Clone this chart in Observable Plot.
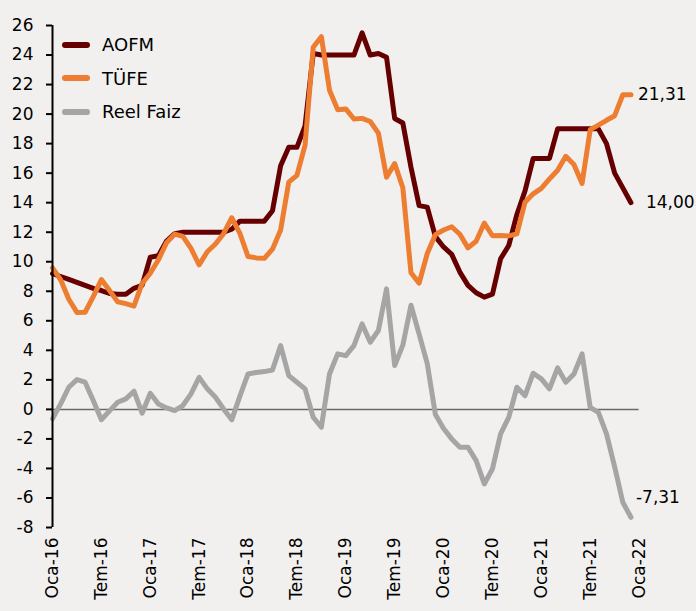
<!DOCTYPE html>
<html><head><meta charset="utf-8">
<script src="https://cdn.jsdelivr.net/npm/d3@7"></script>
<script src="https://cdn.jsdelivr.net/npm/@observablehq/plot@0.6"></script>
<style>
body{margin:0;background:#F2F0EF;}
#chart{position:relative;width:696px;height:611px;background:#F2F0EF;}
.legend{position:absolute;left:62px;top:28px;font-family:"DejaVu Sans";font-size:18px;color:#000;}
.legend div{display:flex;align-items:center;height:33.5px;}
.legend span.sw{display:inline-block;width:28px;height:6px;border-radius:3px;margin-right:12px;}
</style></head><body><div id="chart"></div><script>
// Monthly series, Jan 2016 .. Dec 2021
const seriesNames = ["AOFM", "TÜFE", "Reel Faiz"];
const seriesColors = ["#660000", "#ED7D31", "#A5A5A5"];
const aofm = [
  9.2, 9.0, 8.8, 8.6, 8.4, 8.2, 8.05, 7.85, 7.8, 7.8, 8.2, 8.4,
  10.3, 10.4, 11.4, 11.9, 12.0, 12.0, 12.0, 12.0, 12.0, 12.0, 12.2, 12.75,
  12.75, 12.75, 12.75, 13.45, 16.5, 17.75, 17.75, 19.2, 24.1, 24.0, 24.0, 24.0,
  24.0, 24.0, 25.5, 24.0, 24.1, 23.85, 19.7, 19.4, 16.4, 13.8, 13.7, 11.7,
  11.0, 10.5, 9.3, 8.4, 7.9, 7.6, 7.8, 10.2, 11.1, 13.2, 14.8, 17.0,
  17.0, 17.0, 19.0, 19.0, 19.0, 19.0, 19.0, 19.0, 18.0, 16.0, 15.0, 14.0
];
const tufe = [
  9.58, 8.78, 7.46, 6.57, 6.58, 7.64, 8.79, 8.05, 7.28, 7.16, 7.00, 8.53,
  9.22, 10.13, 11.29, 11.87, 11.72, 10.90, 9.79, 10.68, 11.20, 11.90, 12.98, 11.92,
  10.35, 10.26, 10.23, 10.85, 12.15, 15.39, 15.85, 17.90, 24.52, 25.24, 21.62, 20.30,
  20.35, 19.67, 19.71, 19.50, 18.71, 15.72, 16.65, 15.01, 9.26, 8.55, 10.56, 11.84,
  12.15, 12.37, 11.86, 10.94, 11.39, 12.62, 11.76, 11.77, 11.75, 11.89, 14.03, 14.60,
  14.97, 15.61, 16.19, 17.14, 16.59, 15.30, 18.95, 19.25, 19.58, 19.89, 21.31, 21.31
];
const reelFaiz = [
  -0.64, 0.37, 1.5, 2.02, 1.84, 0.6, -0.7, -0.1, 0.48, 0.71, 1.23, -0.26,
  1.09, 0.37, 0.1, -0.08, 0.26, 1.05, 2.17, 1.39, 0.82, 0.03, -0.71, 0.9,
  2.4, 2.5, 2.56, 2.67, 4.32, 2.29, 1.84, 1.39, -0.53, -1.21, 2.4, 3.76,
  3.64, 4.32, 5.79, 4.55, 5.34, 8.16, 2.97, 4.35, 7.05, 5.1, 3.1, -0.35,
  -1.3, -2.0, -2.57, -2.57, -3.47, -5.05, -4.03, -1.66, -0.54, 1.5, 0.93, 2.45,
  2.07, 1.39, 2.81, 1.84, 2.4, 3.76, 0.14, -0.2, -1.66, -3.9, -6.29, -7.31
];
const xTickLabels = ["Oca-16","Tem-16","Oca-17","Tem-17","Oca-18","Tem-18","Oca-19","Tem-19","Oca-20","Tem-20","Oca-21","Tem-21","Oca-22"];
const yTicks = [-8,-6,-4,-2,0,2,4,6,8,10,12,14,16,18,20,22,24,26];

const allSeries = [aofm, tufe, reelFaiz];
const rows = s => allSeries[s].map((v, i) => ({i, v, s: seriesNames[s]}));
const xTicks = xTickLabels.map((_, k) => k * 6);
const fmt = v => v.toFixed(2).replace(".", ",");
const endLabels = [
  {i: aofm.length - 1, v: aofm[aofm.length - 1], t: fmt(aofm[aofm.length - 1]), dx: 15, dy: 0},
  {i: tufe.length - 1, v: tufe[tufe.length - 1], t: fmt(tufe[tufe.length - 1]), dx: 7, dy: 0},
  {i: reelFaiz.length - 1, v: reelFaiz[reelFaiz.length - 1], t: fmt(reelFaiz[reelFaiz.length - 1]), dx: 5, dy: -20}
];

const lineOpts = (c) => ({x: "i", y: "v", stroke: c, strokeWidth: 5, strokeLinejoin: "round", strokeLinecap: "round"});

const chart = Plot.plot({
  width: 696, height: 611,
  marginLeft: 52, marginRight: 57.4, marginTop: 25, marginBottom: 84,
  style: {background: "#F2F0EF", fontFamily: "DejaVu Sans", fontSize: "17px", color: "#000", overflow: "visible"},
  x: {domain: [0, 72], label: null},
  y: {domain: [-8, 26], label: null},
  marks: [
    Plot.ruleY([0], {x1: 0, x2: 72, stroke: "#6a6a6a", strokeWidth: 1.5}),
    Plot.line(rows(2), lineOpts(seriesColors[2])),
    Plot.line(rows(0), lineOpts(seriesColors[0])),
    Plot.line(rows(1), lineOpts(seriesColors[1])),
    Plot.ruleX([0], {y1: -8, y2: 26, stroke: "#000", strokeWidth: 2}),
    Plot.axisY({ticks: yTicks, label: null, tickSize: 6, tickPadding: 13, strokeWidth: 2, stroke: "#000", fill: "#000", tickFormat: d => String(d)}),
    Plot.axisX({ticks: xTicks, label: null, tickFormat: d => xTickLabels[d / 6], tickRotate: -90, tickSize: 0, tickPadding: 10, fill: "#000"}),
    ...endLabels.map(e => Plot.text([e], {x: "i", y: "v", text: "t", textAnchor: "start", dx: e.dx, dy: e.dy, fill: "#000", fontSize: 17}))
  ]
});
const host = document.getElementById("chart");
host.appendChild(chart);
const legend = document.createElement("div");
legend.className = "legend";
seriesNames.forEach((n, k) => {
  const row = document.createElement("div");
  const sw = document.createElement("span");
  sw.className = "sw"; sw.style.background = seriesColors[k];
  row.appendChild(sw);
  row.appendChild(document.createTextNode(n));
  legend.appendChild(row);
});
host.appendChild(legend);
</script></body></html>
